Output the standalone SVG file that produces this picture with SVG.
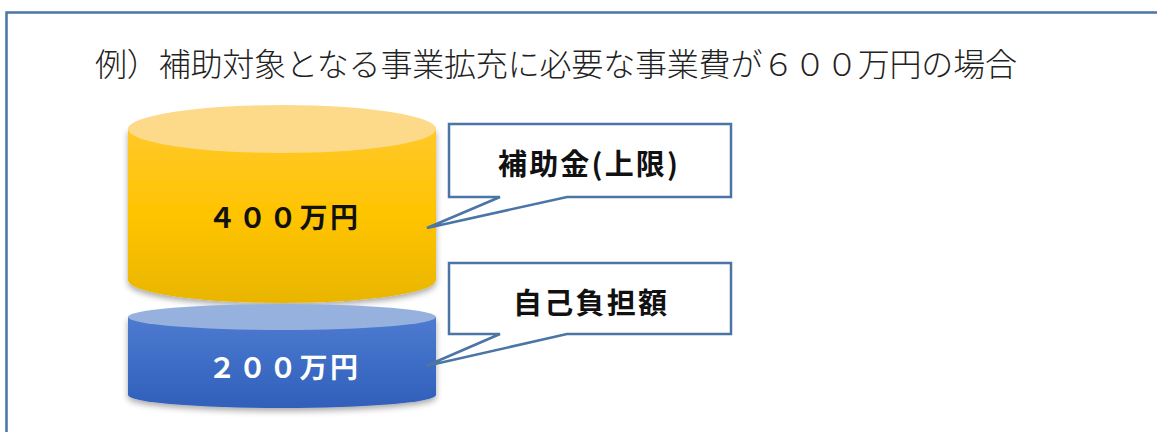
<svg xmlns="http://www.w3.org/2000/svg" width="1157" height="432" viewBox="0 0 1157 432">
<style>
.title{font-family:"Noto Sans CJK JP","Noto Sans",sans-serif;font-size:32px;font-weight:300;fill:#222}
.val{font-family:"Noto Sans CJK JP","Noto Sans",sans-serif;font-size:28px;font-weight:700;text-anchor:middle}
.lbl{font-family:"Noto Sans CJK JP","Noto Sans",sans-serif;font-size:29px;font-weight:700;text-anchor:middle;fill:#111}
.callout{fill:#fff;stroke:#4a75a5;stroke-width:2.5;stroke-linejoin:miter}
</style>
<defs>
<linearGradient id="ySide" x1="0" y1="0" x2="0" y2="1">
<stop offset="0" stop-color="#ffc82a"/>
<stop offset="0.5" stop-color="#ffc400"/>
<stop offset="1" stop-color="#e9b500"/>
</linearGradient>
<linearGradient id="bSide" x1="0" y1="0" x2="0" y2="1">
<stop offset="0" stop-color="#4d7bd0"/>
<stop offset="1" stop-color="#2f5fba"/>
</linearGradient>
<filter id="sh" x="-10%" y="-10%" width="120%" height="130%">
<feDropShadow dx="0" dy="3" stdDeviation="3" flood-color="#000" flood-opacity="0.35"/>
</filter>
</defs>
<rect x="6.5" y="12.5" width="1170" height="440" fill="#fff" stroke="#4a75a5" stroke-width="2.5"/>
<text class="title" x="95" y="76" textLength="922" lengthAdjust="spacing">例）補助対象となる事業拡充に必要な事業費が６００万円の場合</text>
<g id="cyl-yellow">
<path d="M128,129 L128,280 A154,23 0 0 0 436,280 L436,129 Z" fill="url(#ySide)" filter="url(#sh)"/>
<ellipse cx="282" cy="129" rx="154" ry="24" fill="#fdda8a"/>
<text class="val" x="283" y="228" fill="#111" textLength="150" lengthAdjust="spacing">４００万円</text>
</g>
<g id="cyl-blue">
<path d="M128,317 L128,395 A154,13 0 0 0 436,395 L436,317 Z" fill="url(#bSide)" filter="url(#sh)"/>
<ellipse cx="282" cy="317" rx="154" ry="13" fill="#97b1de"/>
<text class="val" x="283" y="378" fill="#fff" textLength="150" lengthAdjust="spacing">２００万円</text>
</g>
<g id="callout-subsidy">
<path class="callout" d="M449,124 L731,124 L731,197 L567,197 L427,228 L500,197 L449,197 Z"/>
<text class="lbl" x="588" y="175" textLength="180" lengthAdjust="spacing">補助金(上限)</text>
</g>
<g id="callout-self">
<path class="callout" d="M449,263 L731,263 L731,334 L567,334 L426,366 L500,334 L449,334 Z"/>
<text class="lbl" x="590" y="314" textLength="154" lengthAdjust="spacing">自己負担額</text>
</g>
</svg>
